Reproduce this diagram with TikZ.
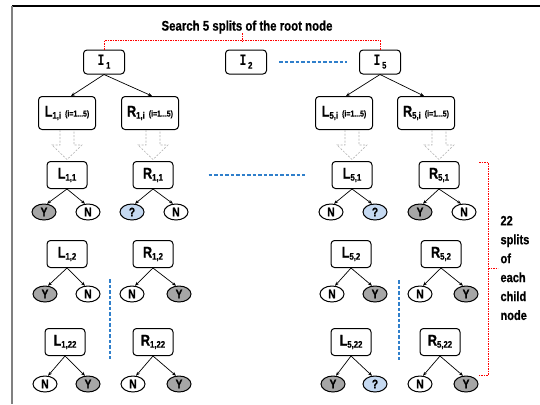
\documentclass[tikz,border=0pt]{standalone}
\usepackage{fontspec}
\setmainfont{Liberation Sans}[FakeStretch=0.82,BoldFeatures={FakeBold=0.5}]
\newfontfamily\serifI{Liberation Mono}[FakeStretch=0.72]
\usetikzlibrary{shapes.geometric,arrows.meta,calc}

\definecolor{yesgray}{HTML}{A6A6A6}
\definecolor{unkblue}{HTML}{C5D9F1}
\definecolor{gapblue}{HTML}{2F7FCB}

% node label: big letter with a lowered index
\newcommand\lbl[2]{{\fontsize{15.5}{15}\selectfont\bfseries #1}\raisebox{-0.4ex}{\fontsize{9.5}{9}\selectfont\bfseries #2}}
\newcommand\ilbl[1]{{\serifI\fontsize{16}{15}\selectfont\bfseries I}\,\raisebox{-0.5ex}{\fontsize{9.5}{9}\selectfont\bfseries #1}}
\newcommand\rng{\hspace{4bp}{\fontsize{8.5}{8}\selectfont\bfseries (i=1...5)}}

% dashed hollow block arrow from a parent box down to a child box
\newcommand\hollowarrow[2]{%
  \coordinate (ha) at (#2.north |- #1.south);
  \draw[hollow] ($(ha)+(-7,0)$) -- ($(#2.north)+(-7,-16)$) -- ($(#2.north)+(-15,-16)$)
    -- ($(#2.north)+(0,-1.5)$) -- ($(#2.north)+(15,-16)$) -- ($(#2.north)+(7,-16)$)
    -- ($(ha)+(7,0)$);}

\begin{document}
\begin{tikzpicture}[x=1bp,y=-1bp,
  box/.style={draw,rounded corners=3.5bp,line width=1bp,inner sep=0pt,fill=white},
  topbox/.style={box,minimum width=41bp,minimum height=24bp},
  midbox/.style={box,minimum width=57bp,minimum height=33bp},
  leafbox/.style={box,minimum width=40bp,minimum height=27bp},
  leaf/.style={ellipse,draw,line width=1bp,minimum width=24bp,minimum height=16bp,
    inner sep=0pt,font=\fontsize{12.5}{12}\selectfont\bfseries},
  yes/.style={leaf,fill=yesgray},
  no/.style={leaf,fill=white},
  unk/.style={leaf,fill=unkblue},
  link/.style={-{Stealth[length=4bp,width=3.2bp]},line width=0.7bp},
  gap/.style={draw=gapblue,line width=1.2bp,dash pattern=on 3.5bp off 2bp},
  brace/.style={draw=red,line width=0.7bp,dash pattern=on 1.5bp off 1bp},
  hollow/.style={draw=gray!60,line width=0.6bp,dash pattern=on 2bp off 1.5bp},
]
\useasboundingbox (0,0) rectangle (540,404);

% frame edges
\draw[line width=1.2bp] (12,6) -- (540,6);
\draw[gray,line width=1.8bp] (12,6) -- (12,404);

% root splits
\node[font=\fontsize{14}{14}\selectfont\bfseries] (title) at (247,27) {Search 5 splits of the root node};
\node[topbox] (I1) at (104,62) {\ilbl{1}};
\node[topbox] (I2) at (246,62) {\ilbl{2}};
\node[topbox] (I5) at (380,62) {\ilbl{5}};
\draw[brace] (I1.north) -- ++(0,-9) -| (I5.north);
\draw[brace] (242,33) -- (242,41);
\draw[gap] ([xshift=12bp]I2.east) -- ([xshift=-12bp]I5.west);

% children of the root splits
\node[midbox] (L1i) at (67,113) {\lbl{L}{1,i}\rng};
\node[midbox] (R1i) at (150,113) {\lbl{R}{1,i}\rng};
\node[midbox] (L5i) at (344,113) {\lbl{L}{5,i}\rng};
\node[midbox] (R5i) at (426,113) {\lbl{R}{5,i}\rng};
\draw[link] (I1.south) -- ([xshift=4bp]L1i.north);
\draw[link] (I1.south) -- ([xshift=2bp]R1i.north);
\draw[link] (I5.south) -- ([xshift=2bp]L5i.north);
\draw[link] (I5.south) -- ([xshift=-2bp]R5i.north);

% first split of each child
\node[leafbox] (L11) at (67,175) {\lbl{L}{1,1}};
\node[leafbox] (R11) at (153,175) {\lbl{R}{1,1}};
\node[leafbox] (L51) at (352,175) {\lbl{L}{5,1}};
\node[leafbox] (R51) at (439,175) {\lbl{R}{5,1}};
\hollowarrow{L1i}{L11}
\hollowarrow{R1i}{R11}
\hollowarrow{L5i}{L51}
\hollowarrow{R5i}{R51}
\draw[gap] ([xshift=35bp]R11.east) -- ([xshift=-27bp]L51.west);

\node[yes] (a1) at (44,212) {Y};  \node[no] (a2) at (88,212) {N};
\node[unk] (b1) at (132,212) {?}; \node[no] (b2) at (176,212) {N};
\node[no] (c1) at (331,212) {N};  \node[unk] (c2) at (375,212) {?};
\node[yes] (d1) at (420,212) {Y}; \node[no] (d2) at (464,212) {N};

% second split of each child
\node[leafbox] (L12) at (67,254) {\lbl{L}{1,2}};
\node[leafbox] (R12) at (153,254) {\lbl{R}{1,2}};
\node[leafbox] (L52) at (351,254) {\lbl{L}{5,2}};
\node[leafbox] (R52) at (441,254) {\lbl{R}{5,2}};

\node[yes] (e1) at (45,294) {Y};  \node[no] (e2) at (88,294) {N};
\node[no] (f1) at (132,294) {N};  \node[yes] (f2) at (179,294) {Y};
\node[no] (g1) at (332,294) {N};  \node[yes] (g2) at (375,294) {Y};
\node[no] (h1) at (420,294) {N};  \node[yes] (h2) at (466,294) {Y};

% last split of each child
\node[leafbox] (L122) at (65,342) {\lbl{L}{1,22}};
\node[leafbox] (R122) at (153,342) {\lbl{R}{1,22}};
\node[leafbox] (L522) at (351,342) {\lbl{L}{5,22}};
\node[leafbox] (R522) at (440,342) {\lbl{R}{5,22}};

\node[no] (i1) at (45,384) {N};   \node[yes] (i2) at (88,384) {Y};
\node[no] (j1) at (133,384) {N};  \node[yes] (j2) at (179,384) {Y};
\node[yes] (k1) at (333,384) {Y}; \node[unk] (k2) at (375,384) {?};
\node[no] (l1) at (420,384) {N};  \node[yes] (l2) at (466,384) {Y};

% split edges
\foreach \p/\l/\r in {L11/a1/a2,R11/b1/b2,L51/c1/c2,R51/d1/d2,
                      L12/e1/e2,R12/f1/f2,L52/g1/g2,R52/h1/h2,
                      L122/i1/i2,R122/j1/j2,L522/k1/k2,R522/l1/l2}{
  \draw[link] (\p.south) -- (\l.70);
  \draw[link] (\p.south) -- (\r.110);
}

% elided splits
\coordinate (v1t) at (110,279); \coordinate (v1b) at (110,359);
\coordinate (v2t) at (399,280); \coordinate (v2b) at (399,360);
\draw[gap] (v1t) -- (v1b);
\draw[gap] (v2t) -- (v2b);

% bracket over the child splits
\coordinate (bt) at (479,162); \coordinate (bb) at (479,375);
\draw[brace] (bt) -- ++(9,0) |- (bb);
\coordinate (bm) at (488,268); \coordinate (bn) at (498,268);
\draw[brace] (bm) -- (bn);
\node[anchor=west,align=left,font=\fontsize{13.5}{19}\selectfont\bfseries] (note) at (497,268)
  {22\\splits\\of\\each\\child\\node};
\end{tikzpicture}
\end{document}
